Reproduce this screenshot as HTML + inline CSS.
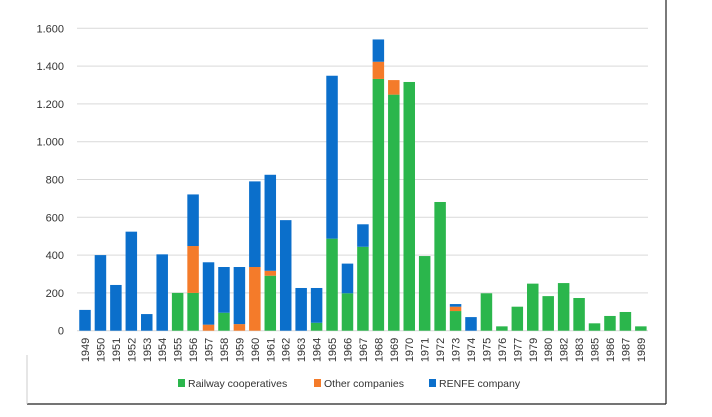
<!DOCTYPE html>
<html><head><meta charset="utf-8"><style>
body{margin:0;background:#fff;font-family:"Liberation Sans",sans-serif;}
</style></head><body>
<svg id="c" width="712" height="412" xmlns="http://www.w3.org/2000/svg"></svg>
<script>
const years=["1949","1950","1951","1952","1953","1954","1955","1956","1957","1958","1959","1960","1961","1962","1963","1964","1965","1966","1967","1968","1969","1970","1971","1972","1973","1974","1975","1976","1977","1979","1980","1982","1983","1985","1986","1987","1989"];
const railway=[0,0,0,0,0,0,200,200,0,95,0,0,291,0,0,42,487,198,444,1332,1249,1316,395,681,104,0,198,23,127,249,183,252,173,39,78,99,23];
const other=[0,0,0,0,0,0,0,248,32,0,35,337,26,0,0,0,0,0,0,91,77,0,0,0,23,0,0,0,0,0,0,0,0,0,0,0,0];
const renfe=[110,400,242,524,88,404,0,273,330,242,302,453,508,585,226,184,862,157,119,118,0,0,0,0,14,72,0,0,0,0,0,0,0,0,0,0,0];
const yTicks=[0,200,400,600,800,1000,1200,1400,1600];
const yTickLabels=["0","200","400","600","800","1.000","1.200","1.400","1.600"];
const seriesNames=["Railway cooperatives","Other companies","RENFE company"];
const colors=["#2bb64c","#f47b2a","#0b6fcb"];
const NS="http://www.w3.org/2000/svg",svg=document.getElementById('c');
const y0=330.7,yTop=28.3,x0=85,step=15.44,bw=11.5;
const y=v=>y0-(v/1600)*(y0-yTop);
const x=i=>x0+i*step;
function mk(t,a){const e=document.createElementNS(NS,t);for(const k in a)e.setAttribute(k,a[k]);svg.appendChild(e);return e;}
// frame
let f=mk('line',{x1:666,y1:0,x2:666,y2:404,stroke:'#222','stroke-width':1.2});

f=mk('line',{x1:27,y1:404,x2:666,y2:404,stroke:'#222','stroke-width':1.2});

f=mk('line',{x1:27,y1:355,x2:27,y2:404,stroke:'#ccc','stroke-width':1});

yTicks.forEach((v,i)=>{
  if(i>0){const g=mk('line',{x1:77,x2:648,y1:y(v),y2:y(v),stroke:'#d9d9d9','stroke-width':1});
  }
  const t=mk('text',{x:64,y:y(v)+4,'text-anchor':'end','font-size':11,fill:'#333'});t.textContent=yTickLabels[i];
  
});
const ax=mk('line',{x1:77,x2:648,y1:y0,y2:y0,stroke:'#d9d9d9','stroke-width':1});

const series=[railway,other,renfe];
years.forEach((yr,i)=>{
  let acc=0;
  series.forEach((s,k)=>{
    if(s[i]>0){const r=mk('rect',{x:x(i)-bw/2,y:y(acc+s[i]),width:bw,height:y(acc)-y(acc+s[i]),fill:colors[k]});
    
    }
    acc+=s[i];
  });
  const t=mk('text',{transform:`translate(${x(i)+4},${y0+7}) rotate(-90)`,'text-anchor':'end','font-size':11,fill:'#333'});
  t.textContent=yr;
  
  
});
const lx=[178,314,429];
seriesNames.forEach((n,k)=>{
  const r=mk('rect',{x:lx[k],y:379,width:7,height:8,fill:colors[k]});
  
  const t=mk('text',{x:lx[k]+10,y:387,'font-size':10.5,fill:'#333'});t.textContent=n;
  
});
</script>
</body></html>
